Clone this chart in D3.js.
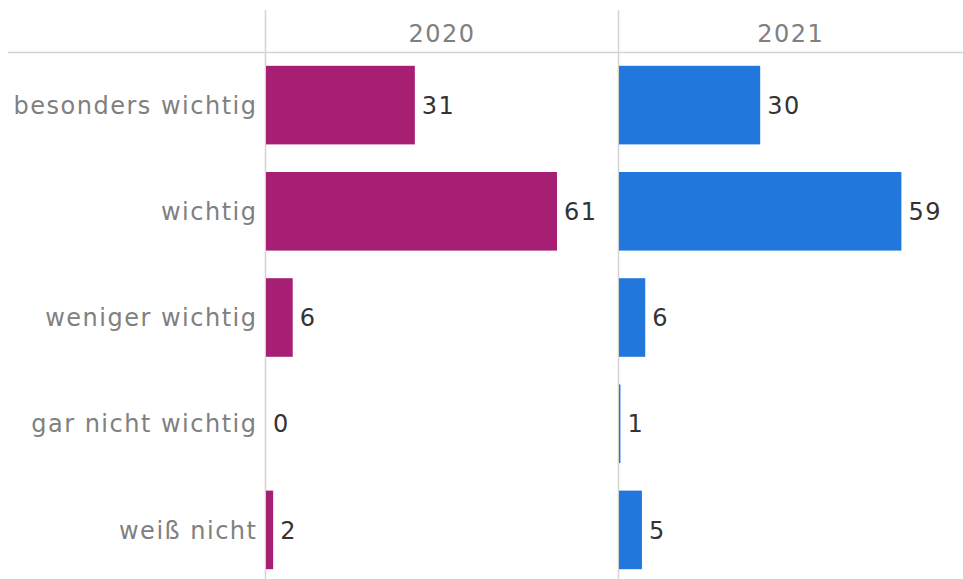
<!DOCTYPE html>
<html><head><meta charset="utf-8">
<script src="https://cdn.jsdelivr.net/npm/d3@7"></script>
<style>body{margin:0;background:#fff}svg{display:block}</style>
</head><body><svg id="c" width="963" height="579"></svg>
<script>
const categories = ["besonders wichtig","wichtig","weniger wichtig","gar nicht wichtig","weiß nicht"];
const years = ["2020","2021"];
const values2020 = [31.2, 61, 5.6, 0, 1.5];
const values2021 = [29.6, 59.2, 5.5, 0.3, 4.8];
const labels2020 = ["31","61","6","0","2"];
const labels2021 = ["30","59","6","1","5"];
const colors = ["#a61f72","#2277dc"];

const svg = d3.select("#c");
const font = "'DejaVu Sans', sans-serif";
const ls = 1.5;
const panels = [{x0:265.5,x1:618.5,vals:values2020,labs:labels2020},{x0:618.5,x1:963,vals:values2021,labs:labels2021}];
const y = d3.scaleBand().domain(categories).range([52,583]).paddingInner(0.26).paddingOuter(0.13);
const x = d3.scaleLinear().domain([0,74]).range([0,353]);

svg.append("line").attr("x1",8).attr("x2",963).attr("y1",52.5).attr("y2",52.5).attr("stroke","#d4d4d4").attr("stroke-width",1.5);
panels.forEach((p,i)=>{
  svg.append("line").attr("x1",p.x0).attr("x2",p.x0).attr("y1",10).attr("y2",579).attr("stroke","#d4d4d4").attr("stroke-width",1.5);
  svg.append("text").attr("x",(p.x0+p.x1)/2).attr("y",42).attr("text-anchor","middle")
    .attr("font-family",font).attr("font-size",24).attr("letter-spacing",ls).attr("fill","#808080").text(years[i]);
  const g = svg.append("g").attr("transform",`translate(${p.x0+0.5},0)`);
  g.selectAll("rect").data(categories).join("rect")
    .attr("x",0).attr("y",d=>y(d)).attr("height",y.bandwidth())
    .attr("width",(d,j)=>x(p.vals[j])).attr("fill",colors[i]);
  g.selectAll("text").data(categories).join("text")
    .attr("x",(d,j)=>x(p.vals[j])+7).attr("y",d=>y(d)+y.bandwidth()/2).attr("dy","0.36em")
    .attr("font-family",font).attr("font-size",24).attr("letter-spacing",ls).attr("fill","#333")
    .text((d,j)=>p.labs[j]);
});
svg.selectAll("text.cat").data(categories).join("text").attr("class","cat")
  .attr("x",257.5).attr("y",d=>y(d)+y.bandwidth()/2).attr("dy","0.36em").attr("text-anchor","end")
  .attr("font-family",font).attr("font-size",24).attr("letter-spacing",ls).attr("fill","#808080").text(d=>d);
</script></body></html>
